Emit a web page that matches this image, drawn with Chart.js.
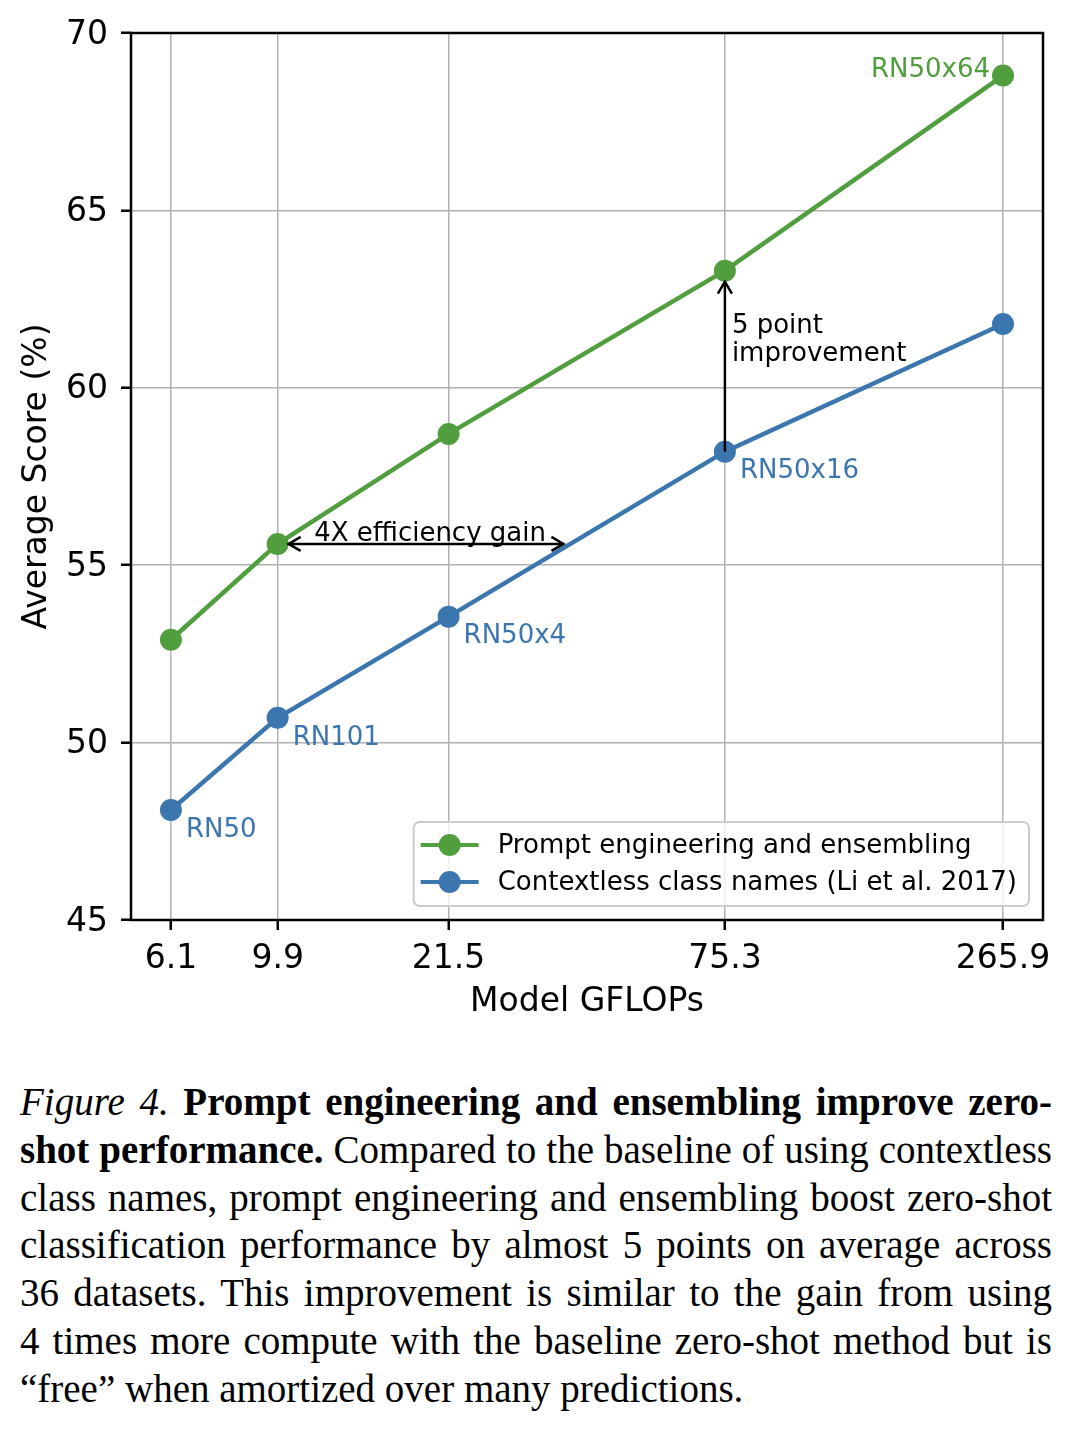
<!DOCTYPE html>
<html lang="en">
<head>
<meta charset="UTF-8">
<title>Figure 4 - Prompt engineering and ensembling</title>
<script src="https://cdn.jsdelivr.net/npm/chart.js"></script>
<style>
    body {
        margin: 0;
        background: #fff;
        width: 1086px;
        height: 1440px;
        position: relative;
        overflow: hidden;
    }

    #chartBox {
        position: absolute;
        left: 0;
        top: 0;
        width: 1086px;
        height: 1040px;
    }

    /* caption under the plot, one block per printed line */
    .caption {
        position: absolute;
        left: 20px;
        top: 1078px;
        width: 1032px;
        font-family: 'Liberation Serif', 'Times New Roman', serif;
        font-size: 39px;
        line-height: 47.8px;
        color: #000;
    }

    .caption .line {
        display: block;
        white-space: nowrap;
        text-align: justify;
        text-align-last: justify;
    }

    .caption .last {
        text-align-last: left;
    }
</style>
</head>
<body>
<div id="chartBox"><canvas id="gflopsChart" width="1086" height="1040"></canvas></div>

<div class="caption">
    <span class="line"><i>Figure 4.</i> <b>Prompt engineering and ensembling improve zero-</b></span>
    <span class="line"><b>shot performance.</b> Compared to the baseline of using contextless</span>
    <span class="line">class names, prompt engineering and ensembling boost zero-shot</span>
    <span class="line">classification performance by almost 5 points on average across</span>
    <span class="line">36 datasets. This improvement is similar to the gain from using</span>
    <span class="line">4 times more compute with the baseline zero-shot method but is</span>
    <span class="line last">“free” when amortized over many predictions.</span>
</div>

<script>
// data
const gflops = [6.1, 9.9, 21.5, 75.3, 265.9];
const xTickLabels = ['6.1', '9.9', '21.5', '75.3', '265.9'];
const yTicks = [45, 50, 55, 60, 65, 70];
const promptScores = [52.9, 55.6, 58.7, 63.3, 68.8];
const baselineScores = [48.1, 50.7, 53.55, 58.2, 61.8];
const modelNames = ['RN50', 'RN101', 'RN50x4', 'RN50x16', 'RN50x64'];
const baselineNamed = [0, 1, 2, 3];   // names written next to the blue points
const promptNamed = [4];              // names written next to the green points
const seriesNames = ['Prompt engineering and ensembling', 'Contextless class names (Li et al. 2017)'];

// annotations (data coordinates)
const effArrow = { y: 55.6, x0: 9.9, x1: 36.2, text: '4X efficiency gain' };
const gainArrow = { x: 75.3, y0: 58.2, y1: 63.3, text: ['5 point', 'improvement'] };

const GREEN = '#519e3e';
const BLUE = '#3c76af';
const FONT = 'DejaVu Sans';
const BIG = { family: FONT, size: 33 };
const SMALL = '26px "DejaVu Sans"';
const MARKER = 11;

const drawHead = (ctx, tx, ty, dx, dy) => {
    const len = 12, half = 7;
    ctx.beginPath();
    ctx.moveTo(tx - dx * len - dy * half, ty - dy * len + dx * half);
    ctx.lineTo(tx, ty);
    ctx.lineTo(tx - dx * len + dy * half, ty - dy * len - dx * half);
    ctx.stroke();
};

// labels, arrows, axes frame and the legend box
const figureExtras = {
    id: 'figureExtras',
    afterDatasetsDraw(chart) {
        const { ctx, chartArea: a } = chart;
        const x = chart.scales.x, y = chart.scales.y;
        ctx.save();

        // model names
        ctx.font = SMALL;
        ctx.textBaseline = 'middle';
        ctx.fillStyle = BLUE;
        ctx.textAlign = 'left';
        baselineNamed.forEach(i => {
            ctx.fillText(modelNames[i], x.getPixelForValue(gflops[i]) + 15, y.getPixelForValue(baselineScores[i]) + 20);
        });
        ctx.fillStyle = GREEN;
        ctx.textAlign = 'right';
        promptNamed.forEach(i => {
            ctx.fillText(modelNames[i], x.getPixelForValue(gflops[i]) - 13, y.getPixelForValue(promptScores[i]) - 5);
        });

        // 4X efficiency arrow
        ctx.strokeStyle = '#000';
        ctx.fillStyle = '#000';
        ctx.lineWidth = 2.5;
        ctx.lineJoin = 'miter';
        const ey = y.getPixelForValue(effArrow.y);
        const ex0 = x.getPixelForValue(effArrow.x0) + MARKER;
        const ex1 = x.getPixelForValue(effArrow.x1);
        ctx.beginPath();
        ctx.moveTo(ex0, ey);
        ctx.lineTo(ex1, ey);
        ctx.stroke();
        drawHead(ctx, ex0, ey, -1, 0);
        drawHead(ctx, ex1, ey, 1, 0);
        ctx.textAlign = 'center';
        ctx.textBaseline = 'alphabetic';
        ctx.fillText(effArrow.text, (ex0 + ex1) / 2 + 4, ey - 3);

        // 5 point arrow
        const gx = x.getPixelForValue(gainArrow.x);
        const gy0 = y.getPixelForValue(gainArrow.y0);
        const gy1 = y.getPixelForValue(gainArrow.y1) + MARKER;
        ctx.beginPath();
        ctx.moveTo(gx, gy0);
        ctx.lineTo(gx, gy1);
        ctx.stroke();
        drawHead(ctx, gx, gy1, 0, -1);
        ctx.textAlign = 'left';
        const mid = (gy0 + gy1) / 2;
        ctx.fillText(gainArrow.text[0], gx + 7, mid - 34);
        ctx.fillText(gainArrow.text[1], gx + 7, mid - 6);

        // axes frame
        ctx.lineWidth = 2.5;
        ctx.strokeRect(a.left, a.top, a.right - a.left, a.bottom - a.top);

        // legend, lower right
        ctx.font = SMALL;
        const textW = Math.max(...seriesNames.map(s => ctx.measureText(s).width));
        const bw = 7 + 58 + 19 + textW + 12;
        const bh = 84;
        const bx = a.right - 14 - bw;
        const by = a.bottom - 14 - bh;
        ctx.beginPath();
        ctx.roundRect(bx, by, bw, bh, 6);
        ctx.fillStyle = 'rgba(255,255,255,0.8)';
        ctx.fill();
        ctx.strokeStyle = '#cccccc';
        ctx.lineWidth = 2;
        ctx.stroke();
        [GREEN, BLUE].forEach((c, k) => {
            const ry = by + 23 + k * 37;
            ctx.strokeStyle = c;
            ctx.fillStyle = c;
            ctx.lineWidth = 4;
            ctx.beginPath();
            ctx.moveTo(bx + 7, ry);
            ctx.lineTo(bx + 65, ry);
            ctx.stroke();
            ctx.beginPath();
            ctx.arc(bx + 36, ry, MARKER, 0, Math.PI * 2);
            ctx.fill();
            ctx.fillStyle = '#000';
            ctx.textAlign = 'left';
            ctx.textBaseline = 'middle';
            ctx.fillText(seriesNames[k], bx + 84, ry + 1);
        });

        ctx.restore();
    }
};

const makeSeries = (label, scores, color) => ({
    label: label,
    data: gflops.map((g, i) => ({ x: g, y: scores[i] })),
    borderColor: color,
    backgroundColor: color,
    borderWidth: 4.5,
    pointRadius: MARKER,
    pointHoverRadius: MARKER,
    pointBorderWidth: 0,
    tension: 0,
    fill: false
});

const gridStyle = { color: '#b0b0b0', lineWidth: 1.5, tickColor: '#000', tickLength: 10, tickWidth: 2.5 };

new Chart(document.getElementById('gflopsChart'), {
    type: 'line',
    data: {
        datasets: [
            makeSeries(seriesNames[0], promptScores, GREEN),
            makeSeries(seriesNames[1], baselineScores, BLUE)
        ]
    },
    options: {
        responsive: false,
        animation: false,
        layout: { padding: { top: 33, right: 43, left: 0, bottom: 0 } },
        plugins: { legend: { display: false }, tooltip: { enabled: false } },
        scales: {
            x: {
                type: 'logarithmic',
                min: 5.09,
                max: 318.8,
                afterBuildTicks: s => { s.ticks = gflops.map(v => ({ value: v })); },
                afterFit: s => { s.height = 120; },
                ticks: {
                    callback: (v, i) => xTickLabels[i],
                    font: BIG, color: '#000', padding: 10,
                    autoSkip: false, maxRotation: 0, minRotation: 0
                },
                grid: gridStyle,
                border: { display: false },
                title: { display: true, text: 'Model GFLOPs', font: BIG, color: '#000', padding: { top: 0, bottom: 18 } }
            },
            y: {
                min: 45,
                max: 70,
                afterBuildTicks: s => { s.ticks = yTicks.map(v => ({ value: v })); },
                afterFit: s => { s.width = 131; },
                ticks: { font: BIG, color: '#000', padding: 13, labelOffset: 2 },
                grid: gridStyle,
                border: { display: false },
                title: { display: true, text: 'Average Score (%)', font: BIG, color: '#000', padding: { top: 18, bottom: 0 } }
            }
        }
    },
    plugins: [figureExtras]
});
</script>
</body>
</html>
